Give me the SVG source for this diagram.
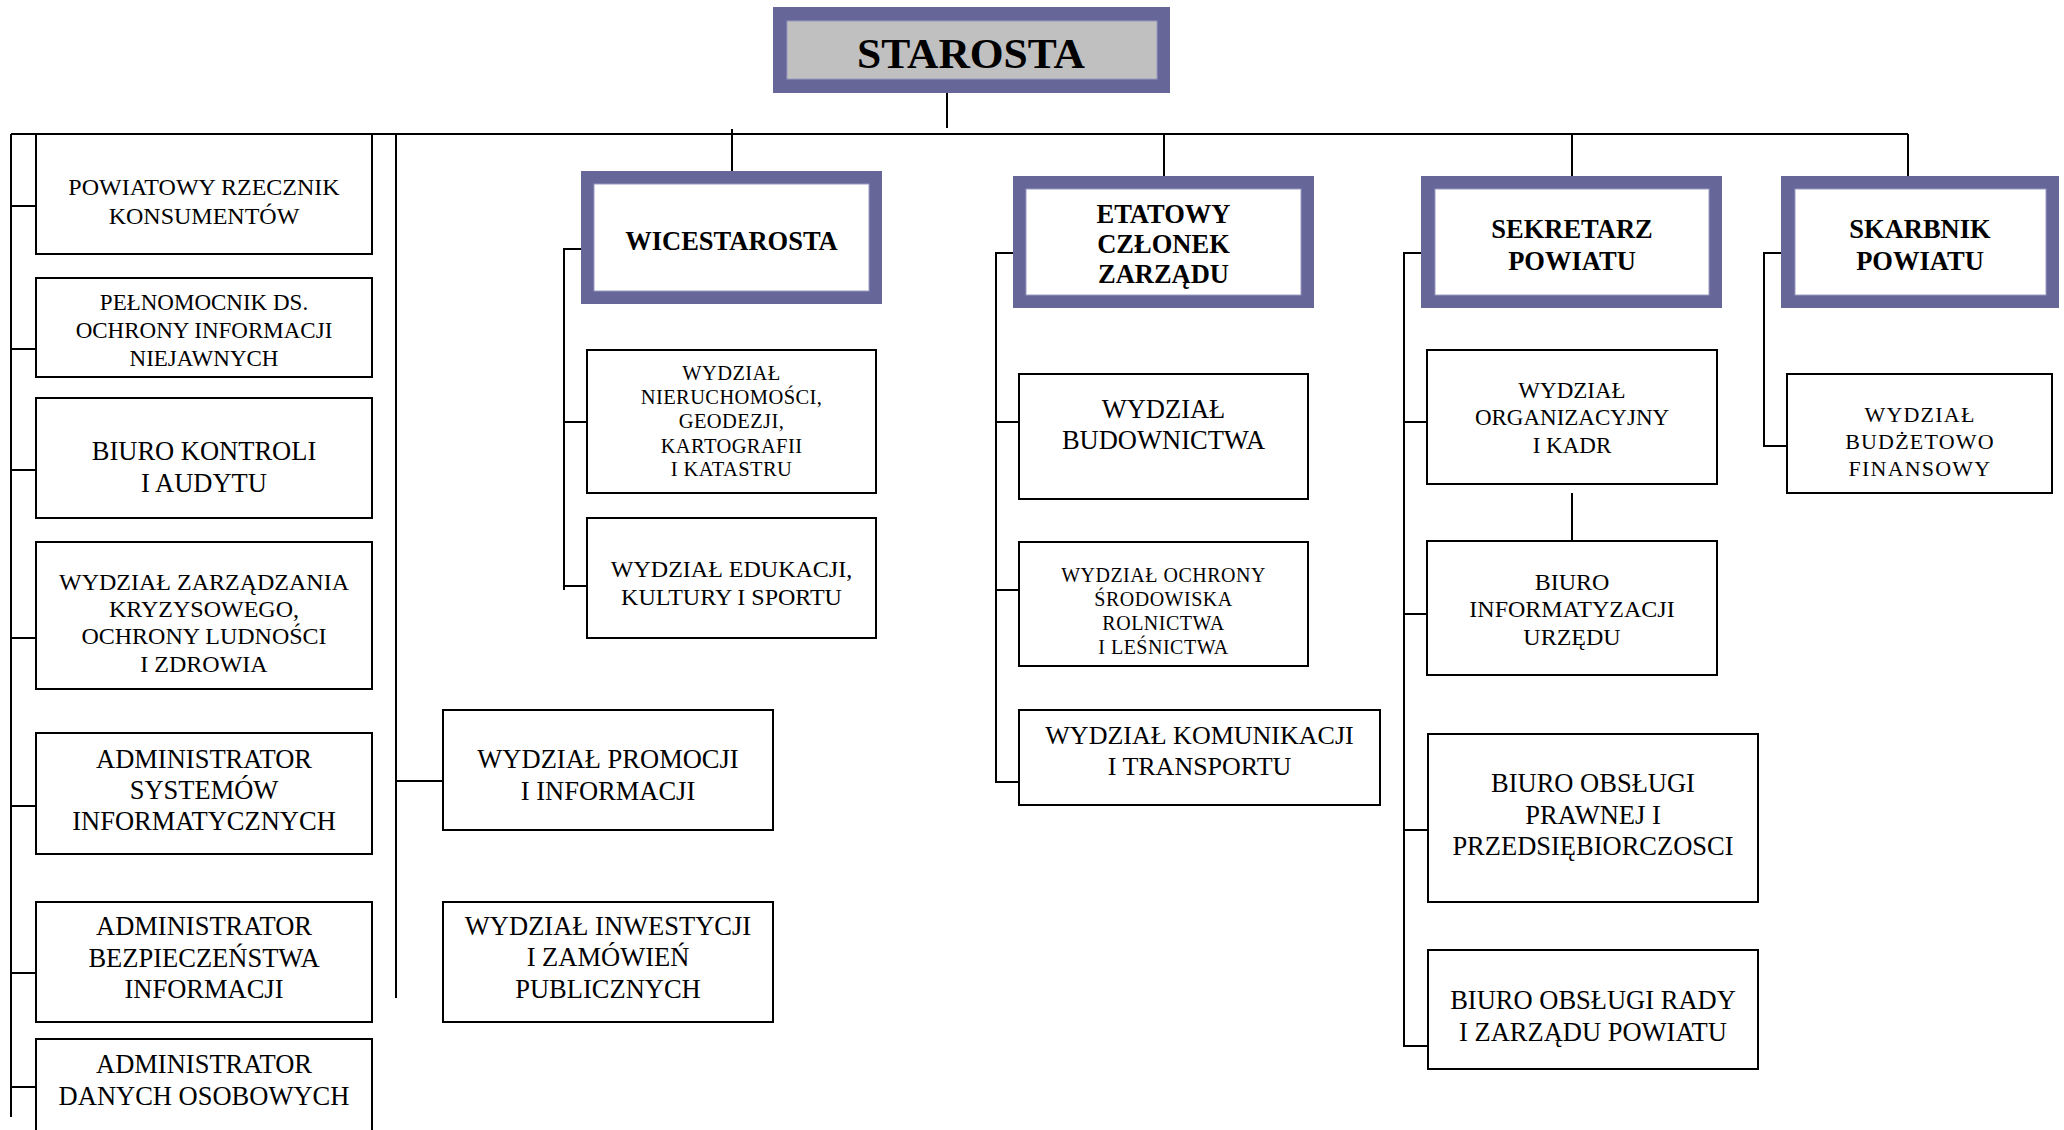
<svg xmlns="http://www.w3.org/2000/svg" width="2064" height="1130" viewBox="0 0 2064 1130">
<style>
.bg{fill:#ffffff}
.box{fill:#ffffff;stroke:#000000;stroke-width:2}
.frame{fill:#666699}
.inner{fill:#ffffff;stroke:#9a9ac2;stroke-width:1}
.grey{fill:#c0c0c0;stroke:#9a9ac2;stroke-width:1}
.t{font-family:"Liberation Serif","Times New Roman",serif;text-anchor:middle;fill:#000000}
.bt{font-family:"Liberation Serif","Times New Roman",serif;text-anchor:middle;fill:#000000;font-weight:bold}
.f20{font-size:20px;letter-spacing:0.5px}
.f21{font-size:20.5px;letter-spacing:0.4px}
.f22{font-size:22px;letter-spacing:1.2px}
.f23{font-size:23px}
.f24{font-size:24px}
.f26{font-size:26.5px}
.conn{stroke:#000000;stroke-width:2;fill:none}
</style>
<rect class="bg" x="0" y="0" width="2064" height="1130"/>

<g id="connectors">
  <path class="conn" d="M947,85 V128"/>
  <path class="conn" stroke-width="2.5" d="M11,134 H1908"/>
  <path class="conn" d="M11,134 V1117"/>
  <path class="conn" d="M11,206 H36 M11,349 H36 M11,470 H36 M11,638 H36 M11,806 H36 M11,973 H36 M11,1087 H36"/>
  <path class="conn" d="M396,134 V998 M396,781 H443"/>
  <path class="conn" d="M732,129 V178"/>
  <path class="conn" d="M588,249 H564 V590 M564,422 H587 M564,586 H587"/>
  <path class="conn" d="M1164,134 V183"/>
  <path class="conn" d="M1020,253 H996 V782 H1019 M996,422 H1019 M996,590 H1019"/>
  <path class="conn" d="M1572,134 V183"/>
  <path class="conn" d="M1429,253 H1404 V1046 H1428 M1404,422 H1427 M1404,614 H1427 M1404,830 H1428"/>
  <path class="conn" d="M1572,493 V541"/>
  <path class="conn" d="M1908,134 V183"/>
  <path class="conn" d="M1789,253 H1764 V446 H1787"/>
</g>

<g id="starosta">
  <rect class="frame" x="773" y="7" width="397" height="86"/>
  <rect class="grey" x="787" y="21" width="370" height="58"/>
  <text class="bt" x="971" y="68" font-size="43" textLength="228" lengthAdjust="spacingAndGlyphs">STAROSTA</text>
</g>

<g id="rzecznik">
  <rect class="box" x="36" y="134" width="336" height="120"/>
  <text class="t f24" x="204" y="195">POWIATOWY RZECZNIK</text>
  <text class="t f24" x="204" y="224">KONSUMENTÓW</text>
</g>
<g id="pelnomocnik">
  <rect class="box" x="36" y="278" width="336" height="99"/>
  <text class="t f23" x="204" y="310">PEŁNOMOCNIK DS.</text>
  <text class="t f23" x="204" y="338">OCHRONY INFORMACJI</text>
  <text class="t f23" x="204" y="366">NIEJAWNYCH</text>
</g>
<g id="biuro-kontroli">
  <rect class="box" x="36" y="398" width="336" height="120"/>
  <text class="t f26" x="204" y="460">BIURO KONTROLI</text>
  <text class="t f26" x="204" y="492">I AUDYTU</text>
</g>
<g id="zarzadzanie-kryzysowe">
  <rect class="box" x="36" y="542" width="336" height="147"/>
  <text class="t f24" x="204" y="590">WYDZIAŁ ZARZĄDZANIA</text>
  <text class="t f24" x="204" y="617">KRYZYSOWEGO,</text>
  <text class="t f24" x="204" y="644">OCHRONY LUDNOŚCI</text>
  <text class="t f24" x="204" y="672">I ZDROWIA</text>
</g>
<g id="admin-systemow">
  <rect class="box" x="36" y="733" width="336" height="121"/>
  <text class="t f26" x="204" y="768">ADMINISTRATOR</text>
  <text class="t f26" x="204" y="799">SYSTEMÓW</text>
  <text class="t f26" x="204" y="830">INFORMATYCZNYCH</text>
</g>
<g id="admin-bezpieczenstwa">
  <rect class="box" x="36" y="902" width="336" height="120"/>
  <text class="t f26" x="204" y="935">ADMINISTRATOR</text>
  <text class="t f26" x="204" y="967">BEZPIECZEŃSTWA</text>
  <text class="t f26" x="204" y="998">INFORMACJI</text>
</g>
<g id="admin-danych">
  <path class="box" d="M36,1131 V1039 H372 V1131"/>
  <text class="t f26" x="204" y="1073">ADMINISTRATOR</text>
  <text class="t f26" x="204" y="1105">DANYCH OSOBOWYCH</text>
</g>

<g id="promocja">
  <rect class="box" x="443" y="710" width="330" height="120"/>
  <text class="t f26" x="608" y="768">WYDZIAŁ PROMOCJI</text>
  <text class="t f26" x="608" y="800">I INFORMACJI</text>
</g>
<g id="inwestycje">
  <rect class="box" x="443" y="902" width="330" height="120"/>
  <text class="t f26" x="608" y="935">WYDZIAŁ INWESTYCJI</text>
  <text class="t f26" x="608" y="966">I ZAMÓWIEŃ</text>
  <text class="t f26" x="608" y="998">PUBLICZNYCH</text>
</g>

<g id="wicestarosta">
  <rect class="frame" x="581" y="171" width="301" height="133"/>
  <rect class="inner" x="594" y="184" width="275" height="107"/>
  <text class="bt f26" x="731.5" y="250">WICESTAROSTA</text>
</g>
<g id="nieruchomosci">
  <rect class="box" x="587" y="350" width="289" height="143"/>
  <text class="t f21" x="731.5" y="380">WYDZIAŁ</text>
  <text class="t f21" x="731.5" y="404">NIERUCHOMOŚCI,</text>
  <text class="t f21" x="731.5" y="428">GEODEZJI,</text>
  <text class="t f21" x="731.5" y="453">KARTOGRAFII</text>
  <text class="t f21" x="731.5" y="476">I KATASTRU</text>
</g>
<g id="edukacja">
  <rect class="box" x="587" y="518" width="289" height="120"/>
  <text class="t f24" x="731.5" y="577">WYDZIAŁ EDUKACJI,</text>
  <text class="t f24" x="731.5" y="605">KULTURY I SPORTU</text>
</g>

<g id="etatowy">
  <rect class="frame" x="1013" y="176" width="301" height="132"/>
  <rect class="inner" x="1026" y="189" width="275" height="106"/>
  <text class="bt f26" x="1163.5" y="223">ETATOWY</text>
  <text class="bt f26" x="1163.5" y="253">CZŁONEK</text>
  <text class="bt f26" x="1163.5" y="283">ZARZĄDU</text>
</g>
<g id="budownictwo">
  <rect class="box" x="1019" y="374" width="289" height="125"/>
  <text class="t f26" x="1163.5" y="418">WYDZIAŁ</text>
  <text class="t f26" x="1163.5" y="449">BUDOWNICTWA</text>
</g>
<g id="ochrona-srodowiska">
  <rect class="box" x="1019" y="542" width="289" height="124"/>
  <text class="t f20" x="1163.5" y="582">WYDZIAŁ OCHRONY</text>
  <text class="t f20" x="1163.5" y="606">ŚRODOWISKA</text>
  <text class="t f20" x="1163.5" y="630">ROLNICTWA</text>
  <text class="t f20" x="1163.5" y="654">I LEŚNICTWA</text>
</g>
<g id="komunikacja">
  <rect class="box" x="1019" y="710" width="361" height="95"/>
  <text class="t" font-size="26" x="1199.5" y="744">WYDZIAŁ KOMUNIKACJI</text>
  <text class="t" font-size="26" x="1199.5" y="775">I TRANSPORTU</text>
</g>

<g id="sekretarz">
  <rect class="frame" x="1421" y="176" width="301" height="132"/>
  <rect class="inner" x="1435" y="189" width="274" height="106"/>
  <text class="bt f26" x="1572" y="238">SEKRETARZ</text>
  <text class="bt f26" x="1572" y="270">POWIATU</text>
</g>
<g id="organizacyjny">
  <rect class="box" x="1427" y="350" width="290" height="134"/>
  <text class="t f23" x="1572" y="398">WYDZIAŁ</text>
  <text class="t f23" x="1572" y="425">ORGANIZACYJNY</text>
  <text class="t f23" x="1572" y="453">I KADR</text>
</g>
<g id="informatyzacja">
  <rect class="box" x="1427" y="541" width="290" height="134"/>
  <text class="t f24" x="1572" y="590">BIURO</text>
  <text class="t f24" x="1572" y="617">INFORMATYZACJI</text>
  <text class="t f24" x="1572" y="645">URZĘDU</text>
</g>
<g id="obsluga-prawna">
  <rect class="box" x="1428" y="734" width="330" height="168"/>
  <text class="t f26" x="1593" y="792">BIURO OBSŁUGI</text>
  <text class="t f26" x="1593" y="824">PRAWNEJ I</text>
  <text class="t f26" x="1593" y="855">PRZEDSIĘBIORCZOSCI</text>
</g>
<g id="obsluga-rady">
  <rect class="box" x="1428" y="950" width="330" height="119"/>
  <text class="t f26" x="1593" y="1009">BIURO OBSŁUGI RADY</text>
  <text class="t f26" x="1593" y="1041">I ZARZĄDU POWIATU</text>
</g>

<g id="skarbnik">
  <rect class="frame" x="1781" y="176" width="278" height="132"/>
  <rect class="inner" x="1795" y="189" width="251" height="106"/>
  <text class="bt f26" x="1920" y="238">SKARBNIK</text>
  <text class="bt f26" x="1920" y="270">POWIATU</text>
</g>
<g id="budzetowo">
  <rect class="box" x="1787" y="374" width="265" height="119"/>
  <text class="t f22" x="1920" y="422">WYDZIAŁ</text>
  <text class="t f22" x="1920" y="449">BUDŻETOWO</text>
  <text class="t f22" x="1920" y="476">FINANSOWY</text>
</g>
</svg>
